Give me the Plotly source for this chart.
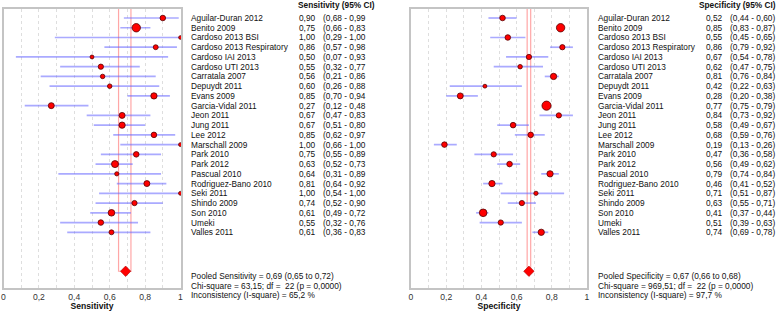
import plotly.graph_objects as go

# ---------------- data ----------------
studies = ["Aguilar-Duran 2012", "Benito 2009", "Cardoso 2013 BSI", "Cardoso 2013 Respiratory",
           "Cardoso IAI 2013", "Cardoso UTI 2013", "Carratala 2007", "Depuydt 2011", "Evans 2009",
           "Garcia-Vidal 2011", "Jeon 2011", "Jung 2011", "Lee 2012", "Marschall 2009", "Park 2010",
           "Park 2012", "Pascual 2010", "Rodriguez-Bano 2010", "Seki 2011", "Shindo 2009",
           "Son 2010", "Umeki", "Valles 2011"]

sens = [0.90, 0.75, 1.00, 0.86, 0.50, 0.55, 0.56, 0.60, 0.85, 0.27, 0.67, 0.67, 0.85, 1.00,
        0.75, 0.63, 0.64, 0.81, 1.00, 0.74, 0.61, 0.55, 0.61]
sens_lo = [0.68, 0.66, 0.29, 0.57, 0.07, 0.32, 0.21, 0.26, 0.70, 0.12, 0.47, 0.51, 0.62, 0.66,
           0.55, 0.52, 0.31, 0.64, 0.54, 0.52, 0.49, 0.32, 0.36]
sens_hi = [0.99, 0.83, 1.00, 0.98, 0.93, 0.77, 0.86, 0.88, 0.94, 0.48, 0.83, 0.80, 0.97, 1.00,
           0.89, 0.73, 0.89, 0.92, 1.00, 0.90, 0.72, 0.76, 0.83]
# relative study weights
sens_weight = [5.3, 8.0, 3.5, 4.7, 3.7, 5.0, 4.3, 4.3, 6.0, 5.7, 5.7, 6.0, 5.3, 3.7, 5.3, 6.7,
               4.0, 5.7, 3.7, 5.0, 6.3, 5.3, 4.7]

spec = [0.52, 0.85, 0.55, 0.86, 0.67, 0.62, 0.81, 0.42, 0.28, 0.77, 0.84, 0.58, 0.68, 0.19,
        0.47, 0.56, 0.79, 0.46, 0.71, 0.63, 0.41, 0.51, 0.74]
spec_lo = [0.44, 0.83, 0.45, 0.79, 0.54, 0.47, 0.76, 0.22, 0.20, 0.75, 0.73, 0.49, 0.59, 0.13,
           0.36, 0.49, 0.74, 0.41, 0.51, 0.55, 0.37, 0.39, 0.69]
spec_hi = [0.60, 0.87, 0.65, 0.92, 0.78, 0.75, 0.84, 0.63, 0.38, 0.79, 0.92, 0.67, 0.76, 0.26,
           0.58, 0.62, 0.84, 0.52, 0.87, 0.71, 0.44, 0.63, 0.78]
spec_weight = [5.3, 8.0, 5.3, 5.0, 5.0, 4.3, 6.0, 3.7, 5.7, 8.7, 5.0, 5.3, 5.3, 5.3, 5.0, 5.3,
               6.0, 6.0, 4.0, 5.0, 7.3, 5.0, 6.0]

pooled_sens = [0.69, 0.65, 0.72]
pooled_spec = [0.67, 0.66, 0.68]
sens_stats = ["63,15", "22", "0,0000", "65,2"]
spec_stats = ["969,51", "22", "0,0000", "97,7"]

tick_vals = [0, 0.1, 0.2, 0.3, 0.4, 0.5, 0.6, 0.7, 0.8, 0.9, 1.0]
tick_text = ["0", "", "0,2", "", "0,4", "", "0,6", "", "0,8", "", "1"]

# ---------------- layout helpers ----------------
W, H = 778, 311
FONT = "Liberation Sans, Arial, sans-serif"
TXT = "#111111"
FS = 8.3


def fmt(v):
    return f"{v:.2f}".replace(".", ",")


n = len(studies)
rows = list(range(n))
pooled_row = 26
y_top, y_bot = -0.924, 27.72

fig = go.Figure()


def add_panel(xa, ya, vals, lo, hi, wts, pooled):
    # pooled CI bracket
    fig.add_trace(go.Scatter(
        x=[pooled[1], pooled[1], pooled[2], pooled[2]],
        y=[y_top, pooled_row, pooled_row, y_top],
        mode="lines", line=dict(color="rgba(255,80,80,0.5)", width=1.2),
        xaxis=xa, yaxis=ya, hoverinfo="skip", showlegend=False, cliponaxis=False))
    # CI lines
    xs, ys = [], []
    for i in rows:
        xs += [lo[i], hi[i], None]
        ys += [i, i, None]
    fig.add_trace(go.Scatter(
        x=xs, y=ys, mode="lines", line=dict(color="rgba(100,100,255,0.55)", width=1.7),
        xaxis=xa, yaxis=ya, hoverinfo="skip", showlegend=False))
    # study points
    fig.add_trace(go.Scatter(
        x=vals, y=rows, mode="markers",
        marker=dict(color="#ff0000", size=[w * 1.05 for w in wts], opacity=1,
                    line=dict(color="#550000", width=0.8)),
        xaxis=xa, yaxis=ya, showlegend=False, cliponaxis=False))
    # pooled diamond
    fig.add_trace(go.Scatter(
        x=[pooled[0]], y=[pooled_row], mode="markers",
        marker=dict(symbol="diamond", color="#ff0000", size=8,
                    line=dict(color="#aa0000", width=0.6)),
        xaxis=xa, yaxis=ya, showlegend=False, cliponaxis=False))


add_panel("x", "y", sens, sens_lo, sens_hi, sens_weight, pooled_sens)
add_panel("x2", "y2", spec, spec_lo, spec_hi, spec_weight, pooled_spec)

frame = dict(showline=True, mirror=True, linecolor="#c4c4c4", linewidth=1.5, zeroline=False)
xcommon = dict(range=[0, 1], tickvals=tick_vals, ticktext=tick_text, showgrid=True,
               gridcolor="#dedede", griddash="dot", gridwidth=1, ticks="",
               tickfont=dict(family=FONT, size=8.6, color="#333"), fixedrange=True,
               automargin=False, **frame)
ycommon = dict(range=[y_bot, y_top], showgrid=False, showticklabels=False, ticks="",
               fixedrange=True, automargin=False, domain=[1 - 288 / H, 1 - 9 / H], **frame)

fig.update_layout(
    width=W, height=H, margin=dict(l=0, r=0, t=0, b=0),
    paper_bgcolor="white", plot_bgcolor="white",
    xaxis=dict(domain=[3.5 / W, 180.5 / W], anchor="y",
               title=dict(text="<b>Sensitivity</b>", standoff=0,
                          font=dict(family=FONT, size=8.6, color="#111")), **xcommon),
    xaxis2=dict(domain=[411 / W, 587 / W], anchor="y2",
                title=dict(text="<b>Specificity</b>", standoff=0,
                           font=dict(family=FONT, size=8.6, color="#111")), **xcommon),
    yaxis=dict(anchor="x", **ycommon),
    yaxis2=dict(anchor="x2", matches="y", **ycommon),
    showlegend=False,
)

ann = []


def txt(x_px, y, text, anchor="left", yref="y", bold=False):
    ann.append(dict(x=x_px / W, y=y, xref="paper", yref=yref,
                    text=f"<b>{text}</b>" if bold else text,
                    showarrow=False, xanchor=anchor, yanchor="middle",
                    font=dict(family=FONT, size=FS, color=TXT)))


def add_table(x_name, x_val, x_ci, vals, lo, hi, close):
    for i in rows:
        txt(x_name, i, studies[i])
        txt(x_val, i, fmt(vals[i]), anchor="right")
        txt(x_ci, i, f"({fmt(lo[i])} - {fmt(hi[i])}" + (")" if close else ""))


add_table(189, 318, 321, sens, sens_lo, sens_hi, False)
add_table(596, 725, 728, spec, spec_lo, spec_hi, True)

txt(336, 1 - 5 / H, "Sensitivity (95% CI)", anchor="center", yref="paper", bold=True)
txt(737, 1 - 5 / H, "Specificity (95% CI)", anchor="center", yref="paper", bold=True)


def add_footer(x_px, label, pooled, stats):
    txt(x_px, 1 - 275.7 / H,
        f"Pooled {label} = {fmt(pooled[0])} ({fmt(pooled[1])} to {fmt(pooled[2])})", yref="paper")
    txt(x_px, 1 - 285.7 / H,
        f"Chi-square = {stats[0]}; df =  {stats[1]} (p = {stats[2]})", yref="paper")
    txt(x_px, 1 - 295.3 / H,
        f"Inconsistency (I-square) = {stats[3]} %", yref="paper")


add_footer(189, "Sensitivity", pooled_sens, sens_stats)
add_footer(596, "Specificity", pooled_spec, spec_stats)

fig.update_layout(annotations=ann)
fig.write_html("out.html", config={"displayModeBar": False},
               post_script="document.body.style.margin='0';")
